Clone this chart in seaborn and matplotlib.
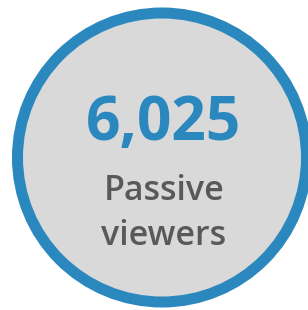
import matplotlib
matplotlib.use("Agg")
import matplotlib.pyplot as plt
import seaborn as sns
from matplotlib.patches import Circle

# data
stat_value = 6025
stat_label = ["Passive", "viewers"]

blue = "#2b88be"
fill = "#d9d9d9"
text_gray = "#595959"

sns.set_theme(style="white")
plt.rcParams["font.family"] = ["Open Sans", "DejaVu Sans"]

fig = plt.figure(figsize=(3.08, 3.10), dpi=100)
ax = fig.add_axes([0, 0, 1, 1])
ax.set_xlim(0, 308)
ax.set_ylim(310, 0)
ax.set_axis_off()

# circle badge (pixel coords)
ax.add_patch(Circle((162, 157.5), 144.5, facecolor=fill, edgecolor=blue,
                    linewidth=11 * 72 / 100))

ax.text(163.5, 140, f"{stat_value:,}", color=blue, fontsize=43.5,
        fontweight="bold", ha="center", va="baseline")
ax.text(164, 200, stat_label[0], color=text_gray, fontsize=24.5,
        fontweight="semibold", ha="center", va="baseline")
ax.text(164, 245, stat_label[1], color=text_gray, fontsize=24.5,
        fontweight="semibold", ha="center", va="baseline")

fig.savefig("out.png", dpi=100)
